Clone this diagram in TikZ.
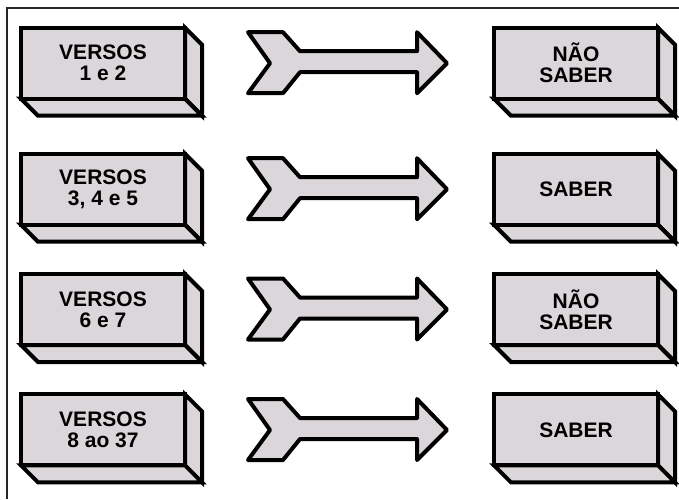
\documentclass[tikz,border=0pt]{standalone}
\usepackage{fontspec}
\setmainfont{Liberation Sans}
\usetikzlibrary{calc,backgrounds}
\definecolor{boxgray}{RGB}{218,214,218}
\begin{document}
\begin{tikzpicture}[x=1pt,y=-1pt,
  blockface/.style={draw, line width=4pt, fill=boxgray, minimum width=164pt,
    minimum height=71pt, inner sep=0pt, outer sep=0pt, anchor=north west,
    align=center, font=\bfseries\fontsize{21}{21}\selectfont},
  blockside/.style={draw, line width=4pt, fill=boxgray},
  arrowbody/.style={draw, line width=4pt, fill=boxgray, line join=round},
  frameline/.style={draw, line width=1.5pt, color=black!85},
  pics/bigarrow/.style={code={
    \draw[arrowbody] (0,-31) -- (35,-31) -- (52,-12) -- (169,-12) -- (169,-31)
      -- (199,0) -- (169,30) -- (169,9) -- (52,9) -- (35,30) -- (0,30)
      -- (22,0) -- cycle;}}]
  \useasboundingbox (0,0) rectangle (679,499);
  % page frame (top and left edges)
  \draw[frameline] (7,499) -- (7,8) -- (679,8);

  % boxes: name / x / top / text
  \foreach \n/\x/\y/\t in {
      a1/21/27.7/{VERSOS\\1 e 2},
      b1/494/27.7/{NÃO\\SABER},
      a2/21/153.7/{VERSOS\\3, 4 e 5},
      b2/494/153.7/{SABER},
      a3/21/274/{VERSOS\\6 e 7},
      b3/494/274/{NÃO\\SABER},
      a4/21/394.4/{VERSOS\\8 ao 37},
      b4/494/394.4/{SABER}} {
    \node[blockface] (\n) at (\x,\y) {\t};
    \begin{scope}[on background layer]
      \draw[blockside] (\n.north east) -- ++(17,17) -- ($(\n.south east)+(17,17)$)
        -- (\n.south east) -- cycle;
      \draw[blockside] (\n.south west) -- ++(17,17) -- ($(\n.south east)+(17,17)$)
        -- (\n.south east) -- cycle;
    \end{scope}
  }

  % arrows between the columns
  \foreach \i/\y in {1/63.2, 2/189.2, 3/309.5, 4/430} {
    \coordinate (arr\i) at (248,\y);
    \pic at (arr\i) {bigarrow};
  }
\end{tikzpicture}
\end{document}
